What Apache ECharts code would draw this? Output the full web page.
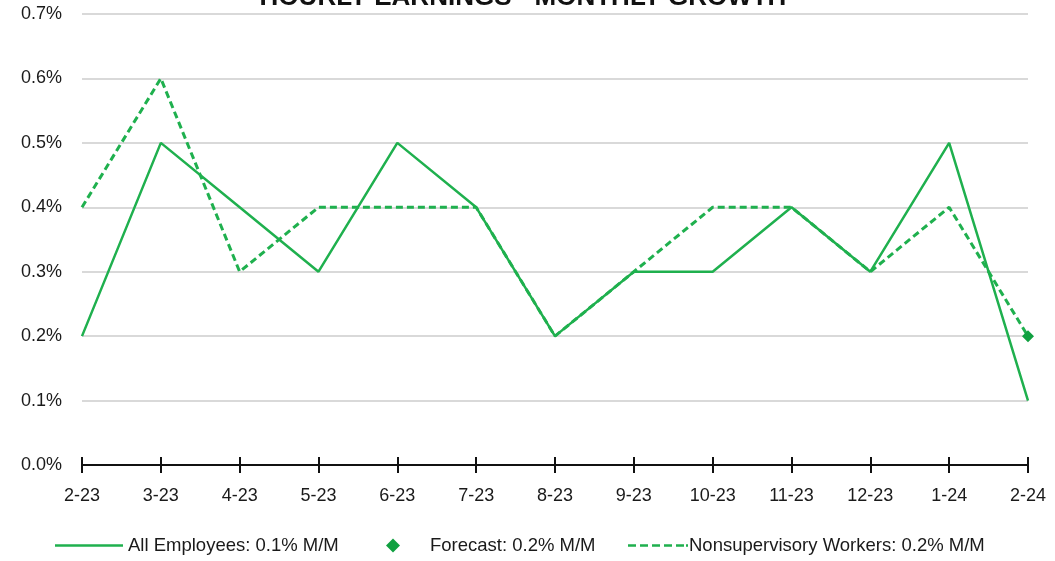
<!DOCTYPE html>
<html><head><meta charset="utf-8">
<script src="https://cdn.jsdelivr.net/npm/echarts@6/dist/echarts.min.js"></script>
<style>html,body{margin:0;padding:0;background:#fff}#c{width:1055px;height:561px}</style>
</head><body><div id="c"></div>
<script>
const categories = ['2-23','3-23','4-23','5-23','6-23','7-23','8-23','9-23','10-23','11-23','12-23','1-24','2-24'];
const allEmployees = [0.2,0.5,0.4,0.3,0.5,0.4,0.2,0.3,0.3,0.4,0.3,0.5,0.1];
const nonsupervisory = [0.4,0.6,0.3,0.4,0.4,0.4,0.2,0.3,0.4,0.4,0.3,0.4,0.2];
const forecast = [null,null,null,null,null,null,null,null,null,null,null,null,0.2];
const seriesNames = ['All Employees: 0.1% M/M','Forecast: 0.2% M/M','Nonsupervisory Workers: 0.2% M/M'];
const titleText = 'HOURLY EARNINGS - MONTHLY GROWTH';
const green = '#1fb04e';
const font = 'Liberation Sans, Arial, sans-serif';

const solidIcon = 'path://M0,0h60v2.2h-60z';
const dashIcon = 'path://M0,0h8v2.6h-8z M12,0h8v2.6h-8z M24,0h8v2.6h-8z M36,0h8v2.6h-8z M48,0h8v2.6h-8z M58,0h2v2.6h-2z';

const chart = echarts.init(document.getElementById('c'));
const legendBase = {bottom: 1, itemHeight: 12, textStyle:{fontFamily:font,fontSize:18.5,color:'#1a1a1a'}};
chart.setOption({
  animation:false,
  title:{text:titleText,left:518,textAlign:'center',top:-20,textStyle:{fontFamily:font,fontSize:26,fontWeight:'bold',color:'#111'}},
  grid:{left:82,right:27,top:14,bottom:96,containLabel:false},
  legend:[
    Object.assign({},legendBase,{left:50,itemWidth:68,itemGap:4,data:[{name:seriesNames[0],icon:solidIcon,itemStyle:{color:green}}]}),
    Object.assign({},legendBase,{left:381,itemWidth:14,itemHeight:14,data:[{name:seriesNames[1],icon:'diamond'}],textStyle:Object.assign({},legendBase.textStyle,{padding:[0,0,0,25]})}),
    Object.assign({},legendBase,{left:623,itemWidth:60,data:[{name:seriesNames[2],icon:dashIcon,itemStyle:{color:green}}],textStyle:Object.assign({},legendBase.textStyle,{padding:[0,0,0,-4]})})
  ],
  xAxis:[
    {type:'category',data:categories,boundaryGap:false,position:'bottom',
     axisLine:{lineStyle:{color:'#111',width:2}},
     axisTick:{show:true,length:8,lineStyle:{color:'#111',width:2}},
     axisLabel:{margin:22,fontFamily:font,fontSize:18,color:'#1a1a1a'},splitLine:{show:false}},
    {type:'category',data:categories,boundaryGap:false,position:'bottom',
     axisLine:{show:false},
     axisTick:{show:true,inside:true,length:8,lineStyle:{color:'#111',width:2}},
     axisLabel:{show:false},splitLine:{show:false}}
  ],
  yAxis:{type:'value',min:0,max:0.7,interval:0.1,
    axisLine:{show:false},axisTick:{show:false},
    axisLabel:{margin:20,fontFamily:font,fontSize:18,color:'#1a1a1a',formatter:v=>v.toFixed(1)+'%'},
    splitLine:{lineStyle:{color:'#d9d9d9',width:2}}},
  series:[
    {name:seriesNames[0],type:'line',data:allEmployees,symbol:'none',lineStyle:{color:green,width:2.5},itemStyle:{color:green}},
    {name:seriesNames[1],type:'line',data:forecast,symbol:'diamond',symbolSize:12,lineStyle:{width:0},itemStyle:{color:'#10a040'}},
    {name:seriesNames[2],type:'line',data:nonsupervisory,symbol:'none',lineStyle:{color:green,width:3,type:[7,4]},itemStyle:{color:green}}
  ]
});
</script></body></html>
